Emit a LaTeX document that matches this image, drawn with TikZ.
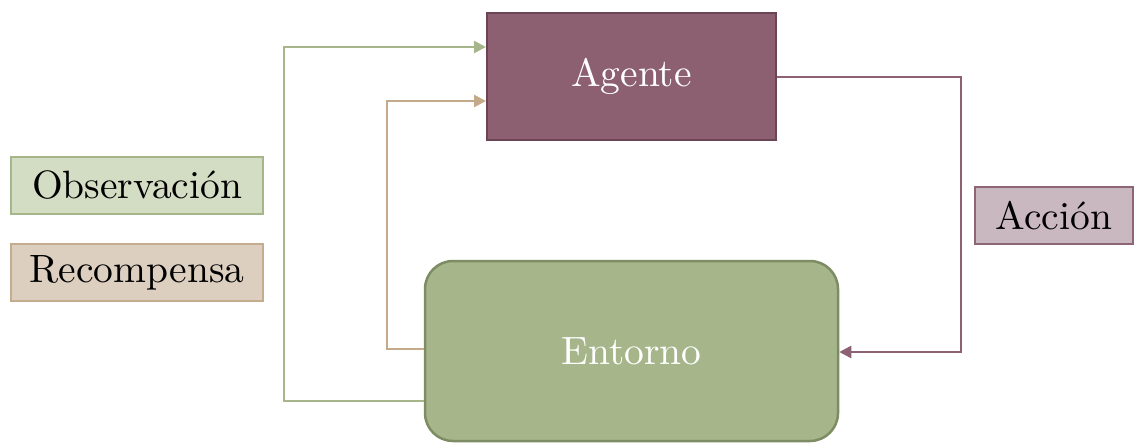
\documentclass[tikz,border=0pt]{standalone}
\usepackage{fontspec}
\newfontfamily\lmten{lmroman10-regular.otf}
\usetikzlibrary{arrows.meta}
\definecolor{agfill}{HTML}{8C6070}
\definecolor{agdraw}{HTML}{6B4555}
\definecolor{enfill}{HTML}{A6B58A}
\definecolor{endraw}{HTML}{7E8C63}
\definecolor{obfill}{HTML}{D3DDC3}
\definecolor{obdraw}{HTML}{A6B58A}
\definecolor{refill}{HTML}{DCCFC0}
\definecolor{redraw}{HTML}{C4AD8F}
\definecolor{acfill}{HTML}{C9B8C0}
\definecolor{acdraw}{HTML}{8E6575}
\definecolor{obline}{HTML}{A6B58A}
\definecolor{reline}{HTML}{C4AA8A}
\definecolor{acline}{HTML}{8E6073}
\tikzset{
  txt/.style={font=\lmten\fontsize{39.5}{44}\selectfont, inner sep=0pt},
  label box/.style={draw=#1, line width=1.5pt, minimum width=252pt, minimum height=57pt, txt, text=black},
  conn/.style={line width=2.6pt, -{Triangle[length=12pt,width=12pt]}},
}
\begin{document}
\begin{tikzpicture}[x=1pt,y=-1pt]
\useasboundingbox (0,0) rectangle (1134,442);
\node[draw=agdraw, fill=agfill, line width=2pt, minimum width=289pt, minimum height=127pt, txt, text=white] (ag) at (631.5,76.5) {Agente};
\node[draw=endraw, fill=enfill, line width=2.5pt, rounded corners=28pt, minimum width=413pt, minimum height=180pt, txt, text=white] (en) at (631.5,351) {Entorno};
\node[label box=obdraw, fill=obfill] (ob) at (137,185.5) {Observación};
\node[label box=redraw, fill=refill] (re) at (137,272.5) {Recompensa};
\node[label box=acdraw, fill=acfill, minimum width=158pt] (ac) at (1054,215.5) {Acción};
\coordinate (g1) at (284,401);
\coordinate (g2) at (284,47);
\coordinate (t1) at (387,349);
\coordinate (t2) at (387,101);
\coordinate (m1) at (961,77);
\coordinate (m2) at (961,352);
\draw[conn, draw=obline] (en.west |- g1) -- (g1) -- (g2) -- (ag.west |- g2);
\draw[conn, draw=reline] (en.west |- t1) -- (t1) -- (t2) -- (ag.west |- t2);
\draw[conn, draw=acline] (ag.east |- m1) -- (m1) -- (m2) -- (en.east |- m2);
\end{tikzpicture}
\end{document}
